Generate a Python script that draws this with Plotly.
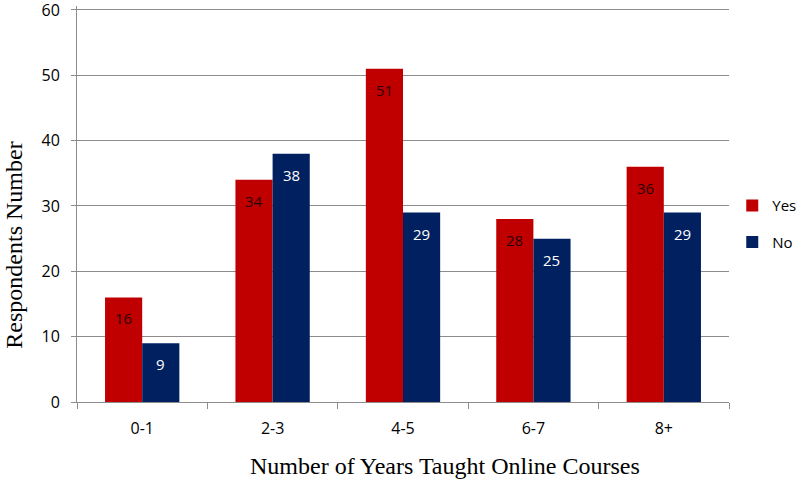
import plotly.graph_objects as go

categories = ["0-1", "2-3", "4-5", "6-7", "8+"]
yes_values = [16, 34, 51, 28, 36]
no_values = [9, 38, 29, 25, 29]
y_ticks = [0, 10, 20, 30, 40, 50, 60]

RED = "#C00000"
BLUE = "#002060"
SANS = "Open Sans, Liberation Sans, sans-serif"
SERIF = "Liberation Serif, Times New Roman, serif"

fig = go.Figure()
fig.add_trace(go.Bar(name="Yes", x=categories, y=yes_values, marker_color=RED,
                     marker_line_width=0, legendgroup="yes"))
fig.add_trace(go.Bar(name="No", x=categories, y=no_values, marker_color=BLUE,
                     marker_line_width=0, legendgroup="no"))

# value labels inside the bars near the top
half_bar_px = 18.5
for cat, v in zip(categories, yes_values):
    fig.add_annotation(x=cat, y=v, xref="x", yref="y", text=str(v), showarrow=False,
                       xshift=-half_bar_px, yshift=-21,
                       font=dict(family=SANS, size=15, color="#2a0000"))
for cat, v in zip(categories, no_values):
    fig.add_annotation(x=cat, y=v, xref="x", yref="y", text=str(v), showarrow=False,
                       xshift=half_bar_px, yshift=-21,
                       font=dict(family=SANS, size=15, color="white"))

# axis titles
fig.add_annotation(text="Number of Years Taught Online Courses", xref="paper", yref="paper",
                   x=0.565, y=0, yshift=-64, xanchor="center", yanchor="middle",
                   showarrow=False, font=dict(family=SERIF, size=24, color="black"))
fig.add_annotation(text="Respondents Number", xref="paper", yref="paper",
                   x=-0.098, y=0.395, xanchor="center", yanchor="middle", textangle=-90,
                   showarrow=False, font=dict(family=SERIF, size=24, color="black"))

grid = "#8c8c8c"
fig.update_layout(
    width=810, height=480,
    margin=dict(l=77, r=81, t=6, b=78, autoexpand=False),
    paper_bgcolor="white", plot_bgcolor="white",
    barmode="group", bargap=0.43, bargroupgap=0,
    font=dict(family=SANS, size=15, color="black"),
    legend=dict(x=1.005, y=0.45, xanchor="left", yanchor="middle",
                traceorder="grouped", tracegroupgap=14,
                font=dict(size=15), itemwidth=30),
    showlegend=True,
)
fig.update_xaxes(
    type="category", tickson="boundaries", ticks="outside", ticklen=6, tickcolor=grid,
    showline=True, linecolor=grid, linewidth=1, showgrid=False,
    ticklabelstandoff=12, tickfont=dict(size=16),
)
fig.update_yaxes(
    range=[0, 60.6], tickvals=y_ticks, ticktext=[str(t) for t in y_ticks],
    ticks="outside", ticklen=5, tickcolor=grid, ticklabeloverflow="allow",
    showline=True, linecolor=grid, linewidth=1,
    showgrid=True, gridcolor=grid, gridwidth=1, zeroline=False,
    ticklabelstandoff=8, tickfont=dict(size=16),
)

fig.write_html("out.html")
